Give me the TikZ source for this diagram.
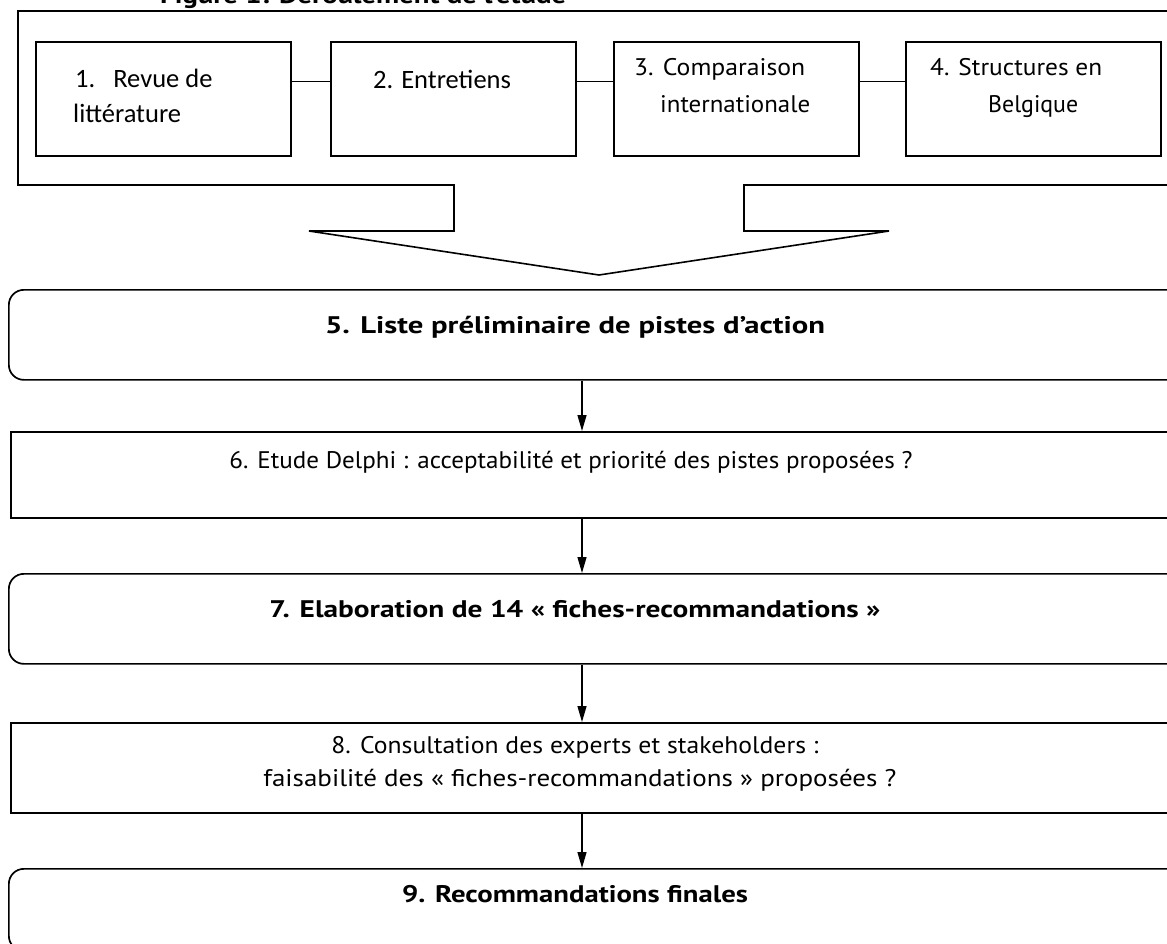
\documentclass[tikz,border=0pt]{standalone}
\usepackage{fontspec}
\usepackage{graphicx}
\setmainfont{PT Sans}
\newfontfamily\calibri{Carlito}
\usetikzlibrary{arrows.meta}
% set a line of text to a given width, keeping its height
\newcommand\fitw[2]{\resizebox{#1}{\height}{#2}}
\begin{document}
\begin{tikzpicture}[x=1pt,y=-1pt,
  frame/.style={draw,line width=1.6pt,line join=miter},
  stepbox/.style={draw,line width=1.6pt,anchor=north west,inner sep=0pt},
  bigbox/.style={draw,line width=1.7pt,anchor=north west,inner sep=0pt},
  roundbox/.style={bigbox,rounded corners=15pt},
  lbl/.style={inner sep=0pt,anchor=base west,font=\fontsize{24}{30}\selectfont},
  cal/.style={inner sep=0pt,anchor=base west,font=\calibri\fontsize{26.5}{32}\selectfont},
  txt/.style={inner sep=0pt,anchor=base,font=\fontsize{24}{30}\selectfont},
  btxt/.style={txt,font=\fontsize{24}{30}\selectfont\bfseries},
  link/.style={line width=1.3pt},
  arr/.style={line width=1.3pt,-{Triangle[length=16pt,width=9pt]}}]
\useasboundingbox (0,0) rectangle (1167,943);

% heading, cut by the top of the page
\node[inner sep=0pt,anchor=base west,font=\fontsize{24}{30}\selectfont\bfseries] (title) at (160,3)
  {\fitw{406pt}{Figure 1: Déroulement de l’étude}};

% outer frame merged with the funnel arrow
\draw[frame] (1185,11) -- (18,11) -- (18,185) -- (454,185) -- (454,231) -- (309,231)
  -- (599,275) -- (889,231) -- (744,231) -- (744,185) -- (1185,185);

% the four sources
\node[stepbox,minimum width=255pt,minimum height=114pt] (b1) at (35,41) {};
\node[stepbox,minimum width=245pt,minimum height=114pt] (b2) at (330,41) {};
\node[stepbox,minimum width=245pt,minimum height=114pt] (b3) at (613,41) {};
\node[stepbox,minimum width=255pt,minimum height=114pt] (b4) at (905,41) {};

\draw[link] ([yshift=17pt]b1.east) -- ([yshift=17pt]b2.west);
\draw[link] ([yshift=17pt]b2.east) -- ([yshift=17pt]b3.west);
\draw[link] ([yshift=17pt]b3.east) -- ([yshift=17pt]b4.west);

\node[cal] (t1a) at (75,87) {1.\hspace{18pt}Revue de};
\node[cal] (t1b) at (73,122) {littérature};
\node[cal] (t2) at (373,88) {2. Entretiens};
\node[lbl] (t3a) at (634,75) {\fitw{171pt}{3. Comparaison}};
\node[lbl] (t3b) at (660,112) {\fitw{150pt}{internationale}};
\node[lbl] (t4a) at (930,75) {\fitw{172pt}{4. Structures en}};
\node[lbl] (t4b) at (988,112) {\fitw{90pt}{Belgique}};

% main sequence
\node[roundbox,minimum width=1180pt,minimum height=90pt] (b5) at (8,289) {};
\node[bigbox,minimum width=1180pt,minimum height=86pt] (b6) at (10,431) {};
\node[roundbox,minimum width=1180pt,minimum height=90pt] (b7) at (8,573) {};
\node[bigbox,minimum width=1180pt,minimum height=90pt] (b8) at (10,722) {};
\node[roundbox,minimum width=1180pt,minimum height=82pt] (b9) at (8,868) {};

\node[btxt] (t5) at (575,333) {\fitw{500pt}{5. Liste préliminaire de pistes d’action}};
\node[txt] (t6) at (571,468) {\fitw{683pt}{6. Etude Delphi : acceptabilité et priorité des pistes proposées ?}};
\node[btxt] (t7) at (575,617) {\fitw{611pt}{7. Elaboration de 14 « fiches-recommandations »}};
\node[txt] (t8a) at (575,753) {\fitw{487pt}{8. Consultation des experts et stakeholders :}};
\node[txt] (t8b) at (580,786) {\fitw{633pt}{faisabilité des « fiches-recommandations » proposées ?}};
\node[btxt] (t9) at (575,902) {\fitw{346pt}{9. Recommandations finales}};

\coordinate (axis) at (582,0);
\draw[arr] (b5.south -| axis) -- (b6.north -| axis);
\draw[arr] (b6.south -| axis) -- (b7.north -| axis);
\draw[arr] (b7.south -| axis) -- (b8.north -| axis);
\draw[arr] (b8.south -| axis) -- (b9.north -| axis);
\end{tikzpicture}
\end{document}
